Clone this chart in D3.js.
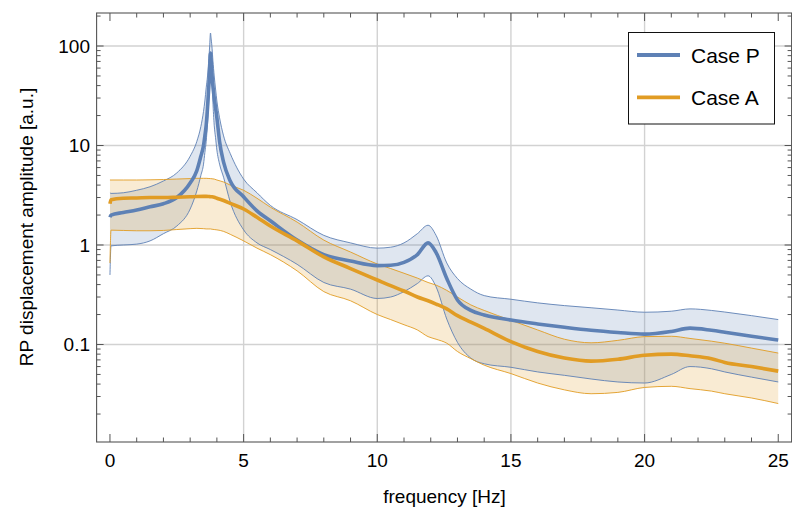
<!DOCTYPE html>
<html><head><meta charset="utf-8">
<script src="https://cdn.jsdelivr.net/npm/d3@7"></script>
<style>body{margin:0;background:#fff}svg{display:block}text{font-family:"Liberation Sans",Arial,sans-serif;fill:#000}</style>
</head><body><svg id="c" width="792" height="508"></svg>
<script>
// ---- data ----
// Case P (denser sampling around the sharp 3.76 Hz resonance)
const pFreq = [0,0.04,0.5,1,1.5,2,2.5,3, 3.25,3.4,3.5,3.55,3.6,3.65,3.7,3.73,3.76,3.79,3.82,3.85,3.9,3.95,4,4.1,
  4.25,4.5,5,5.5,6,7,8,9, 10,10.5,11,11.5,11.9,12.2,12.6,13, 13.5,14,15,16,17,18,19,20, 21,21.7,22.5,23,24,25];
const pMean = [1.9,2.0,2.12,2.25,2.42,2.6,3.0,4.2, 5.6,7.8,10,12.5,16,24,40,58,85,68,50,40,30,24,19,11,
  6.8,4.4,3.05,2.2,1.75,1.12,0.8,0.69, 0.62,0.625,0.67,0.8,1.05,0.84,0.46,0.28, 0.22,0.198,0.176,0.161,0.149,0.139,0.132,0.127, 0.135,0.146,0.139,0.133,0.121,0.111];
const pHi = [3.35,3.3,3.35,3.55,3.85,4.4,5.3,7.8, 11,15.5,22,28,38,50,75,100,135,115,95,72,50,37,28,19,
  12.5,8.3,4.6,3.35,2.5,1.8,1.25,1.05, 0.93,0.95,1.05,1.3,1.58,1.25,0.66,0.46, 0.36,0.31,0.285,0.262,0.246,0.234,0.222,0.211, 0.216,0.228,0.22,0.212,0.195,0.178];
const pLo = [0.5,0.98,1.0,1.02,1.1,1.3,1.55,2.3, 3.5,5,6.5,8.5,11,17,30,50,80,62,45,28,16,12,9,6.5,
  4.8,2.7,1.42,1.05,0.9,0.64,0.42,0.36, 0.29,0.3,0.34,0.41,0.49,0.38,0.18,0.105, 0.073,0.064,0.059,0.053,0.049,0.045,0.042,0.041, 0.05,0.06,0.057,0.053,0.047,0.042];
// Case A
const aFreq = [0,0.04,0.5,1,1.5,2,2.5,3, 3.25,3.5,3.6,3.7,3.76,3.82,3.9,4, 4.25,4.5,5,5.5,6,7,8,9,
  10,10.5,11,11.5,11.9,12.2,12.6,13, 13.5,14,15,16,17,18,19,20, 21,21.7,22.5,23,24,25];
const aMean = [2.6,2.85,2.95,2.97,3.0,3.0,3.02,3.05, 3.07,3.08,3.08,3.07,3.06,3.05,3.02,2.95, 2.8,2.62,2.3,1.9,1.55,1.1,0.76,0.58,
  0.445,0.39,0.345,0.3,0.275,0.255,0.228,0.195, 0.168,0.145,0.107,0.085,0.073,0.068,0.071,0.078, 0.08,0.077,0.072,0.066,0.06,0.054];
const aHi = [4.5,4.5,4.5,4.5,4.52,4.55,4.6,4.65, 4.68,4.68,4.68,4.66,4.65,4.63,4.6,4.5, 4.3,4.0,3.55,2.95,2.4,1.7,1.12,0.85,
  0.645,0.58,0.52,0.465,0.42,0.395,0.35,0.3, 0.25,0.22,0.175,0.14,0.113,0.104,0.11,0.12, 0.121,0.115,0.108,0.103,0.092,0.082];
const aLo = [0.66,1.41,1.4,1.39,1.39,1.4,1.43,1.46, 1.47,1.46,1.45,1.45,1.45,1.44,1.43,1.42, 1.37,1.28,1.1,0.93,0.8,0.55,0.34,0.275,
  0.2,0.178,0.158,0.14,0.12,0.113,0.103,0.085, 0.072,0.062,0.051,0.041,0.035,0.032,0.033,0.037, 0.038,0.036,0.034,0.032,0.029,0.0255];
const xTicks = [0,5,10,15,20,25];
const yTicks = [0.1,1,10,100];
const yTickLabels = ["0.1","1","10","100"];
const seriesNames = ["Case P","Case A"];
const seriesColors = ["#5E81B5","#E19C24"];

// ---- layout ----
const L=96.6, R=791.6, T=13, B=442;
const svg = d3.select("#c");
const x = d3.scaleLinear().domain([-0.5,25.5]).range([L,R]);
const y = d3.scaleLog().domain([0.01047,214.7]).range([B,T]);

svg.append("defs").append("clipPath").attr("id","clip")
  .append("rect").attr("x",L).attr("y",T).attr("width",R-L).attr("height",B-T);

// grid
const grid = svg.append("g").attr("stroke","#d2d2d2").attr("stroke-width",1.4);
grid.selectAll("line.gx").data(xTicks.filter(d=>d>0&&d<25)).join("line")
  .attr("x1",d=>x(d)).attr("x2",d=>x(d)).attr("y1",T).attr("y2",B);
grid.selectAll("line.gy").data(yTicks).join("line")
  .attr("x1",L).attr("x2",R).attr("y1",d=>y(d)).attr("y2",d=>y(d));

const series = [
  {f:pFreq, mean:pMean, lo:pLo, hi:pHi, color:seriesColors[0]},
  {f:aFreq, mean:aMean, lo:aLo, hi:aHi, color:seriesColors[1]}
];
const plot = svg.append("g").attr("clip-path","url(#clip)");
const area = d3.area().x(d=>x(d.f)).y0(d=>y(d.lo)).y1(d=>y(d.hi)).curve(d3.curveMonotoneX);
const line = d3.line().x(d=>x(d.f)).y(d=>y(d.v)).curve(d3.curveMonotoneX);

series.forEach(s=>{
  plot.append("path").datum(s.f.map((f,i)=>({f, lo:s.lo[i], hi:s.hi[i]})))
    .attr("d",area).attr("fill",s.color).attr("fill-opacity",0.2).attr("stroke","none");
});
series.forEach(s=>{
  [s.lo,s.hi].forEach(arr=>{
    plot.append("path").datum(s.f.map((f,i)=>({f, v:arr[i]}))).attr("d",line).attr("fill","none")
      .attr("stroke",s.color).attr("stroke-width",1).attr("stroke-opacity",0.9);
  });
});
series.forEach(s=>{
  plot.append("path").datum(s.f.map((f,i)=>({f, v:s.mean[i]}))).attr("d",line).attr("fill","none")
    .attr("stroke",s.color).attr("stroke-width",3.6).attr("stroke-linejoin","round");
});

// frame + ticks
const ax = svg.append("g").attr("stroke","#555").attr("fill","none");
ax.append("rect").attr("x",L).attr("y",T).attr("width",R-L).attr("height",B-T).attr("stroke-width",1.1);
const xMinor = d3.range(0,26).filter(d=>d%5!==0);
function xt(vals,len){
  vals.forEach(v=>{
    ax.append("line").attr("x1",x(v)).attr("x2",x(v)).attr("y1",B).attr("y2",B-len).attr("stroke-width",1);
    ax.append("line").attr("x1",x(v)).attr("x2",x(v)).attr("y1",T).attr("y2",T+len).attr("stroke-width",1);
  });
}
xt(xTicks,8); xt(xMinor,4.5);
const yMinor = [];
[0.01,0.1,1,10,100].forEach(dec=>{ for(let k=2;k<=9;k++){ const v=dec*k; if(v>0.01047&&v<214.7) yMinor.push(v);} });
function yt(vals,len){
  vals.forEach(v=>{
    ax.append("line").attr("x1",L).attr("x2",L+len).attr("y1",y(v)).attr("y2",y(v)).attr("stroke-width",1);
    ax.append("line").attr("x1",R).attr("x2",R-len).attr("y1",y(v)).attr("y2",y(v)).attr("stroke-width",1);
  });
}
yt(yTicks,7); yt(yMinor,4);

// tick labels
svg.append("g").selectAll("text").data(xTicks).join("text")
  .attr("x",d=>x(d)).attr("y",467).attr("text-anchor","middle").attr("font-size",19).text(d=>d);
svg.append("g").selectAll("text").data(yTicks).join("text")
  .attr("x",90).attr("y",d=>y(d)+6.7).attr("text-anchor","end").attr("font-size",19).text((d,i)=>yTickLabels[i]);

// axis titles
svg.append("text").attr("x",444.5).attr("y",503).attr("text-anchor","middle").attr("font-size",19).text("frequency [Hz]");
svg.append("text").attr("transform","translate(33,227) rotate(-90)").attr("text-anchor","middle").attr("font-size",19)
  .text("RP displacement amplitude [a.u.]");

// legend
const lg = svg.append("g");
lg.append("rect").attr("x",628.5).attr("y",32.5).attr("width",146).attr("height",91.5)
  .attr("fill","#fff").attr("stroke","#111").attr("stroke-width",1);
seriesNames.forEach((n,i)=>{
  const cy = 55 + i*42.3;
  lg.append("line").attr("x1",637).attr("x2",680).attr("y1",cy).attr("y2",cy)
    .attr("stroke",seriesColors[i]).attr("stroke-width",3.8);
  lg.append("text").attr("x",691).attr("y",cy+7.7).attr("font-size",21).text(n);
});
</script></body></html>
